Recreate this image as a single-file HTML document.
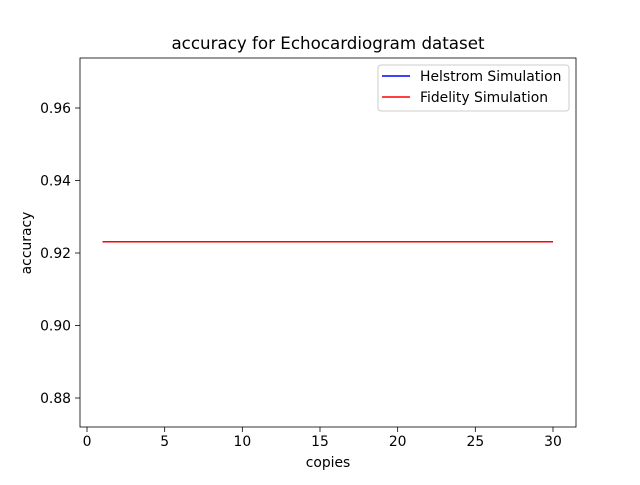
<!DOCTYPE html>
<html><head><meta charset="utf-8"><style>
body{margin:0;background:#fff;font-family:"Liberation Sans","DejaVu Sans",sans-serif;}
svg text{font-family:"DejaVu Sans","Liberation Sans",sans-serif;}
</style></head><body>
<svg id="chart" width="640" height="480" xmlns="http://www.w3.org/2000/svg">
<rect width="640" height="480" fill="#fff"/>
<text x="328" y="49" font-size="16.7" text-anchor="middle">accuracy for Echocardiogram dataset</text>
<g id="plot"></g>
<rect x="80" y="58" width="496" height="369" fill="none" stroke="#000" stroke-width="0.8"/>
<text x="328" y="467" font-size="13.9" text-anchor="middle">copies</text>
<text transform="translate(31,243) rotate(-90)" font-size="13.9" text-anchor="middle">accuracy</text>
<g>
<rect x="378" y="65" width="191" height="46" rx="3" fill="#fff" stroke="#ccc" stroke-width="1"/>
<line x1="382" y1="76" x2="410" y2="76" stroke="blue" stroke-width="1.5"/>
<text x="420" y="81" font-size="13.9">Helstrom Simulation</text>
<line x1="382" y1="97" x2="410" y2="97" stroke="red" stroke-width="1.5"/>
<text x="420" y="102" font-size="13.9">Fidelity Simulation</text>
</g>
</svg>
<script>
const copies=[1,2,3,4,5,6,7,8,9,10,11,12,13,14,15,16,17,18,19,20,21,22,23,24,25,26,27,28,29,30];
const helstrom=[0.9231,0.9231,0.9231,0.9231,0.9231,0.9231,0.9231,0.9231,0.9231,0.9231,0.9231,0.9231,0.9231,0.9231,0.9231,0.9231,0.9231,0.9231,0.9231,0.9231,0.9231,0.9231,0.9231,0.9231,0.9231,0.9231,0.9231,0.9231,0.9231,0.9231];
const fidelity=[0.9231,0.9231,0.9231,0.9231,0.9231,0.9231,0.9231,0.9231,0.9231,0.9231,0.9231,0.9231,0.9231,0.9231,0.9231,0.9231,0.9231,0.9231,0.9231,0.9231,0.9231,0.9231,0.9231,0.9231,0.9231,0.9231,0.9231,0.9231,0.9231,0.9231];
const xTicks=[0,5,10,15,20,25,30];
const yTicks=[0.88,0.90,0.92,0.94,0.96];
const yTickLabels=["0.88","0.90","0.92","0.94","0.96"];
const NS="http://www.w3.org/2000/svg";
function xs(v){return 87+(v-0)*(553-87)/30;}
function ys(v){return 398-(v-0.88)*(398-108)/0.08;}
const g=document.getElementById('plot');
function mk(t,a){const e=document.createElementNS(NS,t);for(const k in a)e.setAttribute(k,a[k]);return e;}
xTicks.forEach(t=>{
  const l=mk('line',{x1:xs(t),x2:xs(t),y1:427,y2:432,stroke:'#000','stroke-width':0.8});
  
  
  g.appendChild(l);
  const tx=mk('text',{x:xs(t),y:446,'font-size':13.9,'text-anchor':'middle'});
  tx.textContent=t;
  
  
  g.appendChild(tx);
});
yTicks.forEach((t,i)=>{
  const l=mk('line',{x1:75,x2:80,y1:ys(t),y2:ys(t),stroke:'#000','stroke-width':0.8});
  
  
  g.appendChild(l);
  const tx=mk('text',{x:71,y:ys(t)+5,'font-size':13.9,'text-anchor':'end'});
  tx.textContent=yTickLabels[i];
  
  
  g.appendChild(tx);
});
function line(vals,color,name){
  const p=mk('polyline',{points:copies.map((c,i)=>xs(c)+','+ys(vals[i])).join(' '),fill:'none',stroke:color,'stroke-width':1.5});
  
  
  g.appendChild(p);
}
line(helstrom,'blue','helstrom-line');
line(fidelity,'red','fidelity-line');
</script>
</body></html>
